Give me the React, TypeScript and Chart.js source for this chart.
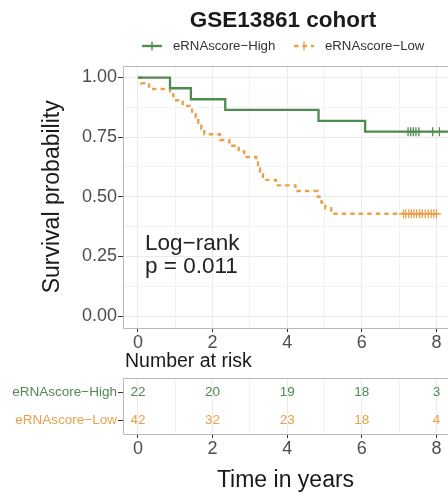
import React, { useEffect, useRef } from "react";
import { Chart, registerables } from "chart.js";

Chart.register(...registerables);

const FONT = "'Liberation Sans', Arial, Helvetica, sans-serif";

// ---- data ----
const groupLabels = ["eRNAscore−High", "eRNAscore−Low"];
const highTimes = [0, 0.86, 1.42, 2.34, 4.84, 6.09, 8.6];
const highSurv = [1, 0.955, 0.909, 0.864, 0.818, 0.773, 0.773];
const lowTimes = [0, 0.08, 0.3, 0.86, 0.95, 1.2, 1.45, 1.55, 1.62, 1.7, 1.78, 2.2, 2.45, 2.7, 2.85, 3.17, 3.22, 3.27, 3.35, 3.7, 4.22, 4.82, 4.92, 5.02, 5.18, 8.02];
const lowSurv = [1, 0.976, 0.952, 0.929, 0.905, 0.881, 0.857, 0.833, 0.81, 0.786, 0.762, 0.738, 0.714, 0.69, 0.667, 0.643, 0.619, 0.595, 0.571, 0.548, 0.524, 0.5, 0.476, 0.452, 0.429, 0.429];
const highCensorTimes = [7.24, 7.31, 7.38, 7.45, 7.53, 7.9, 8.08];
const highCensorSurv = 0.773;
const lowCensorTimes = [7.12, 7.18, 7.26, 7.33, 7.4, 7.47, 7.55, 7.62, 7.7, 7.78, 7.86, 7.93, 8.0];
const lowCensorSurv = 0.429;
const xGridValues = [0, 1, 2, 3, 4, 5, 6, 7, 8];
const yGridValues = [0, 0.125, 0.25, 0.375, 0.5, 0.625, 0.75, 0.875, 1];
const riskTimes = [0, 2, 4, 6, 8];
const highRisk = [22, 20, 19, 18, 3];
const lowRisk = [42, 32, 23, 18, 4];
const titleText = "GSE13861 cohort";
const pvalueLines = ["Log−rank", "p = 0.011"];

const GREEN = "#4F8A4F";
const ORANGE = "#EBA04A";
const GRID = "#EBEBEB";
const GRID_MINOR = "#F2F2F2";
const BORDER = "#B8B8B8";
const TICKC = "#333333";
const LABELC = "#4D4D4D";
const TEXTC = "#1A1A1A";

const X_MIN = -0.4;
const X_MAX = 8.31;

const isEven = (v: number) => Math.abs(v % 2) < 1e-6;
const isQuarter = (v: number) => Math.abs(v * 4 - Math.round(v * 4)) < 1e-6;

function panelBorder(chart: any) {
  const { ctx, chartArea: a } = chart;
  ctx.save();
  ctx.strokeStyle = BORDER;
  ctx.lineWidth = 1;
  ctx.beginPath();
  ctx.moveTo(a.right + 10, Math.round(a.top) + 0.5);
  ctx.lineTo(Math.round(a.left) + 0.5, Math.round(a.top) + 0.5);
  ctx.lineTo(Math.round(a.left) + 0.5, Math.round(a.bottom) + 0.5);
  ctx.lineTo(a.right + 10, Math.round(a.bottom) + 0.5);
  ctx.stroke();
  ctx.restore();
}

const kmDecor = {
  id: "kmDecor",
  afterDatasetsDraw(chart: any) {
    panelBorder(chart);
  },
  afterDraw(chart: any) {
    const { ctx } = chart;
    const xs = chart.scales.x;
    const ys = chart.scales.y;
    ctx.save();
    // title
    ctx.fillStyle = TEXTC;
    ctx.font = `bold 22.5px ${FONT}`;
    ctx.textAlign = "center";
    ctx.textBaseline = "middle";
    ctx.fillText(titleText, 283, 21);
    // legend
    ctx.font = `13.2px ${FONT}`;
    ctx.textAlign = "left";
    ctx.fillStyle = "#333333";
    const ly = 46;
    const keys = [
      { x0: 142, color: GREEN, dash: [] as number[], text: groupLabels[0], tx: 173 },
      { x0: 294, color: ORANGE, dash: [4.5, 4], text: groupLabels[1], tx: 325 },
    ];
    keys.forEach((k) => {
      ctx.strokeStyle = k.color;
      ctx.lineWidth = 2.3;
      ctx.setLineDash(k.dash);
      ctx.beginPath();
      ctx.moveTo(k.x0, ly);
      ctx.lineTo(k.x0 + 20, ly);
      ctx.stroke();
      ctx.setLineDash([]);
      ctx.lineWidth = 1.4;
      ctx.beginPath();
      ctx.moveTo(k.x0 + 10, ly - 4.5);
      ctx.lineTo(k.x0 + 10, ly + 4.5);
      ctx.stroke();
      ctx.fillText(k.text, k.tx, ly);
    });
    // p-value
    ctx.font = `22.5px ${FONT}`;
    ctx.fillStyle = "#222222";
    ctx.textAlign = "left";
    const px = xs.getPixelForValue(0.19);
    ctx.fillText(pvalueLines[0], px, ys.getPixelForValue(0.305));
    ctx.fillText(pvalueLines[1], px, ys.getPixelForValue(0.205));
    ctx.restore();
  },
};

const riskDecor = {
  id: "riskDecor",
  afterDatasetsDraw(chart: any) {
    panelBorder(chart);
    const { ctx } = chart;
    ctx.save();
    ctx.font = `13.5px ${FONT}`;
    ctx.textAlign = "center";
    ctx.textBaseline = "middle";
    chart.data.datasets.forEach((ds: any, i: number) => {
      const meta = chart.getDatasetMeta(i);
      ctx.fillStyle = ds.borderColor;
      meta.data.forEach((el: any, j: number) => {
        ctx.fillText(String(ds.counts[j]), el.x, el.y);
      });
    });
    ctx.fillStyle = TEXTC;
    ctx.font = `19.5px ${FONT}`;
    ctx.textAlign = "left";
    ctx.fillText("Number at risk", 125, 14);
    ctx.restore();
  },
};

function xAxis(height: number, withTitle: boolean): any {
  return {
    type: "linear",
    min: X_MIN,
    max: X_MAX,
    afterBuildTicks: (s: any) => {
      s.ticks = xGridValues.map((v) => ({ value: v }));
    },
    afterFit: (s: any) => {
      s.height = height;
    },
    ticks: {
      autoSkip: false,
      maxRotation: 0,
      padding: 0,
      color: LABELC,
      font: { size: 18, family: FONT },
      callback: (v: any) => (isEven(Number(v)) ? String(v) : ""),
    },
    grid: {
      color: (c: any) => (c.tick && isEven(c.tick.value) ? GRID : GRID_MINOR),
      tickColor: (c: any) => (c.tick && isEven(c.tick.value) ? TICKC : "rgba(0,0,0,0)"),
      tickLength: 4,
      lineWidth: 1,
    },
    border: { display: false },
    title: withTitle
      ? {
          display: true,
          text: "Time in years",
          color: TEXTC,
          font: { size: 23, family: FONT },
          padding: { top: 0, bottom: 4 },
        }
      : { display: false },
  };
}

export default function App() {
  const refA = useRef<HTMLCanvasElement>(null);
  const refB = useRef<HTMLCanvasElement>(null);

  useEffect(() => {
    Chart.defaults.font.family = FONT;
    const km = new Chart(refA.current as HTMLCanvasElement, {
      type: "line",
      data: {
        datasets: [
          {
            label: groupLabels[0],
            data: highTimes.map((t, i) => ({ x: t, y: highSurv[i] })),
            borderColor: GREEN,
            backgroundColor: GREEN,
            borderWidth: 2.3,
            stepped: "before",
            pointRadius: 0,
            fill: false,
          },
          {
            label: groupLabels[1],
            data: lowTimes.map((t, i) => ({ x: t, y: lowSurv[i] })),
            borderColor: ORANGE,
            backgroundColor: ORANGE,
            borderWidth: 2.4,
            borderDash: [4.5, 4],
            stepped: "before",
            pointRadius: 0,
            fill: false,
          },
          {
            label: "High censored",
            data: highCensorTimes.map((t) => ({ x: t, y: highCensorSurv })),
            showLine: false,
            borderColor: GREEN,
            backgroundColor: GREEN,
            pointStyle: "cross",
            pointRadius: 4.5,
            pointBorderWidth: 1.3,
          },
          {
            label: "Low censored",
            data: lowCensorTimes.map((t) => ({ x: t, y: lowCensorSurv })),
            showLine: false,
            borderColor: ORANGE,
            backgroundColor: ORANGE,
            pointStyle: "cross",
            pointRadius: 4.5,
            pointBorderWidth: 1.3,
          },
        ],
      },
      options: {
        responsive: false,
        animation: false,
        events: [],
        layout: { autoPadding: false, padding: { top: 65.6, left: 0, right: 0, bottom: 0 } },
        plugins: {
          legend: { display: false },
          tooltip: { enabled: false },
          title: { display: false },
        },
        scales: {
          x: xAxis(27, false),
          y: {
            type: "linear",
            min: -0.05,
            max: 1.05,
            afterBuildTicks: (s: any) => {
              s.ticks = yGridValues.map((v) => ({ value: v }));
            },
            afterFit: (s: any) => {
              s.width = 123;
            },
            ticks: {
              autoSkip: false,
              padding: 1,
              color: LABELC,
              font: { size: 18, family: FONT },
              callback: (v: any) => (isQuarter(Number(v)) ? Number(v).toFixed(2) : ""),
            },
            grid: {
              color: (c: any) => (c.tick && isQuarter(c.tick.value) ? GRID : GRID_MINOR),
              tickColor: (c: any) => (c.tick && isQuarter(c.tick.value) ? TICKC : "rgba(0,0,0,0)"),
              tickLength: 5,
              lineWidth: 1,
            },
            border: { display: false },
            title: {
              display: true,
              text: "Survival probability",
              color: TEXTC,
              font: { size: 23, family: FONT },
              padding: { top: 39, bottom: 0 },
            },
          },
        },
      } as any,
      plugins: [kmDecor],
    });

    const risk = new Chart(refB.current as HTMLCanvasElement, {
      type: "line",
      data: {
        datasets: [
          {
            label: groupLabels[0],
            data: riskTimes.map((t) => ({ x: t, y: groupLabels[0] })),
            counts: highRisk,
            borderColor: GREEN,
            showLine: false,
            pointRadius: 0,
          } as any,
          {
            label: groupLabels[1],
            data: riskTimes.map((t) => ({ x: t, y: groupLabels[1] })),
            counts: lowRisk,
            borderColor: ORANGE,
            showLine: false,
            pointRadius: 0,
          } as any,
        ],
      },
      options: {
        responsive: false,
        animation: false,
        events: [],
        layout: { autoPadding: false, padding: { top: 30, left: 0, right: 0, bottom: 0 } },
        plugins: {
          legend: { display: false },
          tooltip: { enabled: false },
          title: { display: false },
        },
        scales: {
          x: xAxis(64, true),
          y: {
            type: "category",
            labels: groupLabels,
            offset: true,
            afterFit: (s: any) => {
              s.width = 123;
            },
            ticks: {
              padding: 1,
              font: { size: 13.5, family: FONT },
              color: (c: any) => (c.index === 0 ? GREEN : ORANGE),
            },
            grid: {
              drawOnChartArea: false,
              tickColor: TICKC,
              tickLength: 5,
            },
            border: { display: false },
          },
        },
      } as any,
      plugins: [riskDecor],
    });

    return () => {
      km.destroy();
      risk.destroy();
    };
  }, []);

  return (
    <div
      style={{
        position: "fixed",
        left: 0,
        top: 0,
        width: 448,
        height: 498,
        background: "#ffffff",
        overflow: "hidden",
      }}
    >
      <canvas
        ref={refA}
        width={448}
        height={355}
        style={{ position: "absolute", left: 0, top: 0, width: 448, height: 355 }}
      />
      <canvas
        ref={refB}
        width={448}
        height={150}
        style={{ position: "absolute", left: 0, top: 348, width: 448, height: 150 }}
      />
    </div>
  );
}
